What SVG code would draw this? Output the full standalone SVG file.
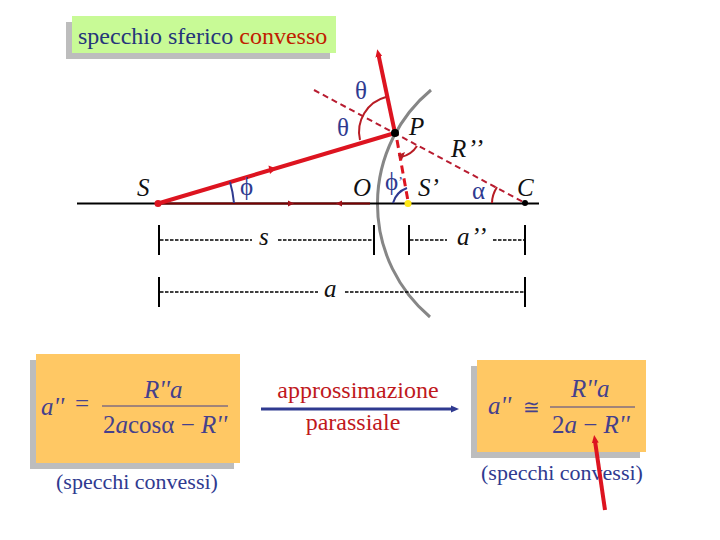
<svg xmlns="http://www.w3.org/2000/svg" width="720" height="540" viewBox="0 0 720 540">
<style>
text{font-family:"Liberation Serif","Times New Roman",serif}
.lab{font-style:italic;font-size:25px;fill:#111}
.gr{font-size:25px;fill:#2f3a90}
.f{font-size:25px;fill:#45408c}
.fi{font-size:25px;fill:#45408c;font-style:italic}
.cap{font-size:22px;fill:#2f3a90}
.red{font-size:24px;fill:#c0181c}
.dim{stroke:#000;stroke-width:2;fill:none}
.dash{stroke:#000;stroke-width:1.5;stroke-dasharray:3.5 1.5;fill:none}
.ray{stroke:#dd1420;stroke-width:4;fill:none}
.ang{stroke:#b81c24;stroke-width:2;fill:none}
.angb{stroke:#2f3a90;stroke-width:2;fill:none}
</style>
<defs>
<marker id="big" markerUnits="userSpaceOnUse" markerWidth="10" markerHeight="10" refX="2" refY="5" orient="auto"><path d="M0 1.500L8 5L0 8.500Z" fill="#dd1420"/></marker>
<marker id="blue" markerUnits="userSpaceOnUse" markerWidth="10" markerHeight="10" refX="2" refY="5" orient="auto"><path d="M0 1.500L8 5L0 8.500Z" fill="#2f3a90"/></marker>
</defs>
<g id="title"><rect x="66" y="22" width="264" height="37" fill="#bdbdbd"/><rect x="72" y="16" width="264" height="37" fill="#c8fa96"/><text x="78" y="44" font-size="24px" fill="#25357a">specchio sferico <tspan fill="#c02000">convesso</tspan></text></g>
<g id="mirror"><path d="M431 90A148 148 0 0 0 430 317" fill="none" stroke="#868686" stroke-width="3"/></g>
<g id="formula-left"><rect x="30" y="360" width="204" height="109" fill="#bdbdbd"/><rect x="36" y="354" width="204" height="109" fill="#ffc864"/>
<text x="41" y="415" class="fi">a''</text><text x="75" y="412" class="f">=</text>
<text x="144" y="398" class="fi">R''a</text><path d="M102 406H228" stroke="#45408c" stroke-width="1.200"/>
<text x="103" y="433" class="f">2<tspan font-style="italic">a</tspan>cosα − <tspan font-style="italic">R''</tspan></text></g>
<g id="formula-right"><rect x="471" y="366" width="169" height="92" fill="#bdbdbd"/><rect x="477" y="360" width="169" height="92" fill="#ffc864"/>
<text x="488" y="414" class="fi">a''</text><text x="523" y="414" font-size="20px" fill="#45408c">≅</text>
<text x="571" y="397" class="fi">R''a</text><path d="M550 407H635" stroke="#45408c" stroke-width="1.200"/>
<text x="552" y="433" class="f">2<tspan font-style="italic">a</tspan> − <tspan font-style="italic">R''</tspan></text></g>
<g id="captions">
<text x="358" y="398" text-anchor="middle" class="red">approssimazione</text>
<text x="353" y="430" text-anchor="middle" class="red">parassiale</text>
<text x="137" y="489" text-anchor="middle" class="cap">(specchi convessi)</text>
<text x="562" y="480" text-anchor="middle" class="cap">(specchi convessi)</text>
</g>
<g id="connectors">
<path d="M77 203.5H539" stroke="#000" stroke-width="2.2" fill="none"/>
<path d="M158 203.5H370" stroke="#700" stroke-width="2" fill="none"/>
<path d="M288 200.5L294 203.5L288 206.5Z M342 200.5L336 203.5L342 206.5Z" fill="#a01018"/>
<path d="M158 203.5L395 133" class="ray"/>
<path d="M268.500 165.500L276 168.500L270 174Z" fill="#dd1420"/>
<path d="M395 133L378.500 55" class="ray" marker-end="url(#big)"/>
<path d="M314 90L525 203" stroke="#b81c30" stroke-width="2" stroke-dasharray="6 4" fill="none"/>
<path d="M397 140L408 201" stroke="#dd1420" stroke-width="3" stroke-dasharray="8 5" fill="none"/>
<path d="M360 140A36 36 0 0 1 386 97" class="ang"/>
<path d="M417 146A25 25 0 0 1 401 157" class="ang"/>
<path d="M398 155L405 152L402 160Z" fill="#b81c24"/>
<path d="M497 187Q492 195 492 203" class="ang"/>
<path d="M230 182Q233 192 234 203" class="angb"/>
<path d="M393 203Q396 192 407 188" class="angb"/>
<g id="dim-s"><path d="M159 225V255M374 225V255M409 225V255M525 225V255M159 277V307M525 277V307" class="dim"/>
<path d="M160 240H252M278 240H373M410 240H447M493 240H524M160 292H318M345 292H524" class="dash"/></g>
<path d="M261 409H453" stroke="#2f3a90" stroke-width="3" marker-end="url(#blue)" fill="none"/>
<path d="M605 510L595 441" class="ray" marker-end="url(#big)"/>
</g>
<g id="S"><circle cx="158" cy="203.500" r="3.500" fill="#dd1420"/><text x="137" y="196" class="lab">S</text></g>
<g id="P"><circle cx="395" cy="133" r="4" fill="#000"/><text x="409" y="135" class="lab">P</text></g>
<g id="Sp"><circle cx="408" cy="203.500" r="3.500" fill="#ffe818"/><text x="418" y="196" class="lab">S’</text></g>
<g id="O"><text x="353" y="196" class="lab">O</text></g>
<g id="C"><circle cx="525" cy="203" r="3" fill="#000"/><text x="517" y="196" class="lab">C</text></g>
<g id="labels">
<text x="451" y="157" class="lab" letter-spacing="1.500">R’’</text>
<text x="355" y="99" class="gr">θ</text>
<text x="337" y="136" class="gr">θ</text>
<text x="240" y="195" class="gr">ϕ</text>
<text x="385" y="190" class="gr">ϕ<tspan font-size="14" dy="-3">’</tspan></text>
<text x="472" y="199" class="gr">α</text>
<text x="259" y="245" class="lab">s</text>
<text x="457" y="245" class="lab" letter-spacing="1.500">a’’</text>
<text x="324" y="297" class="lab">a</text>
</g>
</svg>
